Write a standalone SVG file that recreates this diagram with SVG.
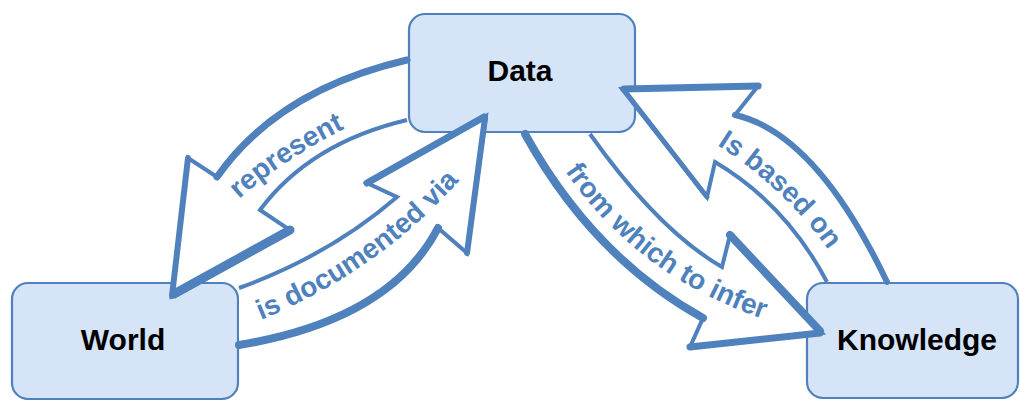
<svg xmlns="http://www.w3.org/2000/svg" width="1021" height="401" viewBox="0 0 1021 401">
  <style>
    .box { fill: #D6E4F8; stroke: #4F81BD; stroke-width: 2.2; }
    .name { font-family: "Liberation Sans", Arial, sans-serif; font-weight: bold; font-size: 30px; fill: #000; text-anchor: middle; }
    .arrow { fill: #FFFFFF; stroke: #4F81BD; stroke-width: 4; stroke-linejoin: miter; stroke-miterlimit: 6; }
    .edge { fill: none; stroke: #4F81BD; stroke-linecap: round; stroke-linejoin: round; }
    .label { font-family: "Liberation Sans", Arial, sans-serif; font-weight: bold; font-size: 28px; fill: #4F81BD; }
  </style>
  <defs>
    <!-- baselines for the curved arrow captions -->
    <path id="p-represent" d="M 239,199 Q 285,158 350,126"/>
    <path id="p-documented" d="M 261,320 Q 379,271 460,180"/>
    <path id="p-infer" d="M 565,171 Q 640,281 776,323"/>
    <path id="p-based" d="M 717,145 Q 786,189 832,255"/>
  </defs>

  <g id="node-data">
    <rect class="box" x="409" y="14" width="226" height="118" rx="16"/>
    <text class="name" x="520" y="81">Data</text>
  </g>
  <g id="node-world">
    <rect class="box" x="12" y="283" width="226" height="116" rx="16"/>
    <text class="name" x="123" y="350">World</text>
  </g>
  <g id="node-knowledge">
    <rect class="box" x="807" y="283" width="211" height="115" rx="16"/>
    <text class="name" x="917" y="350">Knowledge</text>
  </g>

  <g id="connectors">
    <!-- Data -> World : represent -->
    <g id="arrow-represent">
      <path class="arrow" d="M 407,60 Q 278,90 217,177 L 188,158 L 172,296 L 290,230 L 260,210 Q 310,143 407,120"/>
      <path class="edge" stroke-width="7" d="M 407,60 Q 278,90 217,177"/>
      <path class="edge" stroke-width="6" d="M 188,158 L 172,296"/>
      <path class="edge" stroke-width="9" d="M 174,294 L 290,230"/>
      <text class="label"><textPath href="#p-represent">represent</textPath></text>
    </g>
    <!-- World -> Data : is documented via -->
    <g id="arrow-documented">
      <path class="arrow" d="M 239,345 Q 390,320 438,228 L 467,253 L 486,116 L 367,183 L 397,197 Q 330,255 239,288"/>
      <path class="edge" stroke-width="8" d="M 239,345 Q 390,320 438,228"/>
      <path class="edge" stroke-width="7" d="M 367,183 L 484,117"/>
      <path class="edge" stroke-width="6" d="M 485,118 L 467,253"/>
      <text class="label"><textPath href="#p-documented">is documented via</textPath></text>
    </g>
    <!-- Data -> Knowledge : from which to infer -->
    <g id="arrow-infer">
      <path class="arrow" d="M 525,134 Q 593,257 703,318 L 690,347 L 822,333 L 730,235 L 722,267 Q 658,230 590,134"/>
      <path class="edge" stroke-width="8" d="M 525,134 Q 593,257 703,318"/>
      <path class="edge" stroke-width="7" d="M 690,347 L 820,333"/>
      <path class="edge" stroke-width="8" d="M 820,331 L 730,235"/>
      <text class="label"><textPath href="#p-infer">from which to infer</textPath></text>
    </g>
    <!-- Knowledge -> Data : Is based on -->
    <g id="arrow-based">
      <path class="arrow" d="M 887,282 Q 816,133 735,115 L 758,86 L 622,89 L 707,197 L 715,162 Q 786,204 827,282"/>
      <path class="edge" stroke-width="6" d="M 887,282 Q 816,133 735,115"/>
      <path class="edge" stroke-width="7" d="M 758,86 L 624,89"/>
      <path class="edge" stroke-width="5" d="M 624,90 L 707,197"/>
      <text class="label"><textPath href="#p-based">Is based on</textPath></text>
    </g>
  </g>
</svg>
